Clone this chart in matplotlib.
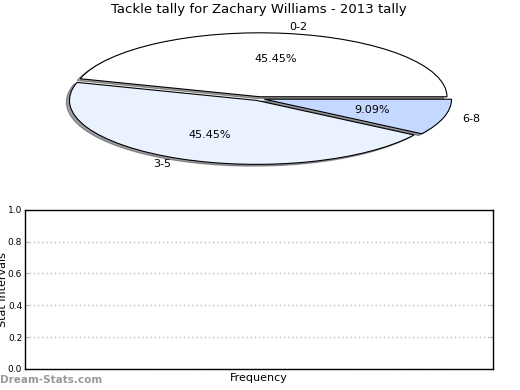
import matplotlib
matplotlib.use("Agg")
import matplotlib.pyplot as plt

title = "Tackle tally for Zachary Williams - 2013 tally"
categories = ["0-2", "3-5", "6-8"]
counts = [5, 5, 1]
colors = ["#ffffff", "#eaf1ff", "#c5d8ff"]
explode = [0.03, 0.03, 0.03]
yticks = [0.0, 0.2, 0.4, 0.6, 0.8, 1.0]

fig = plt.figure(figsize=(5.2, 3.9), dpi=100)
ax1 = fig.add_axes([0.048, 0.542, 0.900, 0.410])
ax2 = fig.add_axes([0.048, 0.054, 0.900, 0.408])

wedges, texts, autotexts = ax1.pie(
    counts, labels=categories, colors=colors, explode=explode,
    autopct="%1.2f%%", shadow=dict(ox=-0.012, oy=-0.02, shade=0.75),
    startangle=0,
    wedgeprops=dict(edgecolor="black", linewidth=0.8),
    textprops=dict(fontsize=8))
ax1.set_aspect("auto")
ax1.set_xlim(-1.25, 1.25)
ax1.set_ylim(-1.25, 1.25)
ax1.set_title(title, fontsize=9.5, pad=4)

ax2.set_ylim(0, 1)
ax2.set_xlim(0, 1)
ax2.set_yticks(yticks)
ax2.set_yticklabels([f"{v:.1f}" for v in yticks])
ax2.set_xticks([])
ax2.tick_params(axis="y", direction="in", length=3, color="#bbbbbb",
                labelsize=6.5, left=True, right=True, pad=2)
ax2.yaxis.grid(True, linestyle=(0, (1, 2)), color="#bbbbbb", linewidth=1)
ax2.set_xlabel("Frequency", fontsize=8, labelpad=3)
ax2.set_ylabel("Stat Intervals", fontsize=8, labelpad=0)
for s in ax2.spines.values():
    s.set_linewidth(1)

fig.text(0.0, 0.025, "Dream-Stats.com", fontsize=7.5, color="#999999",
         fontweight="bold", ha="left", va="center")

fig.savefig("out.png", dpi=100)
